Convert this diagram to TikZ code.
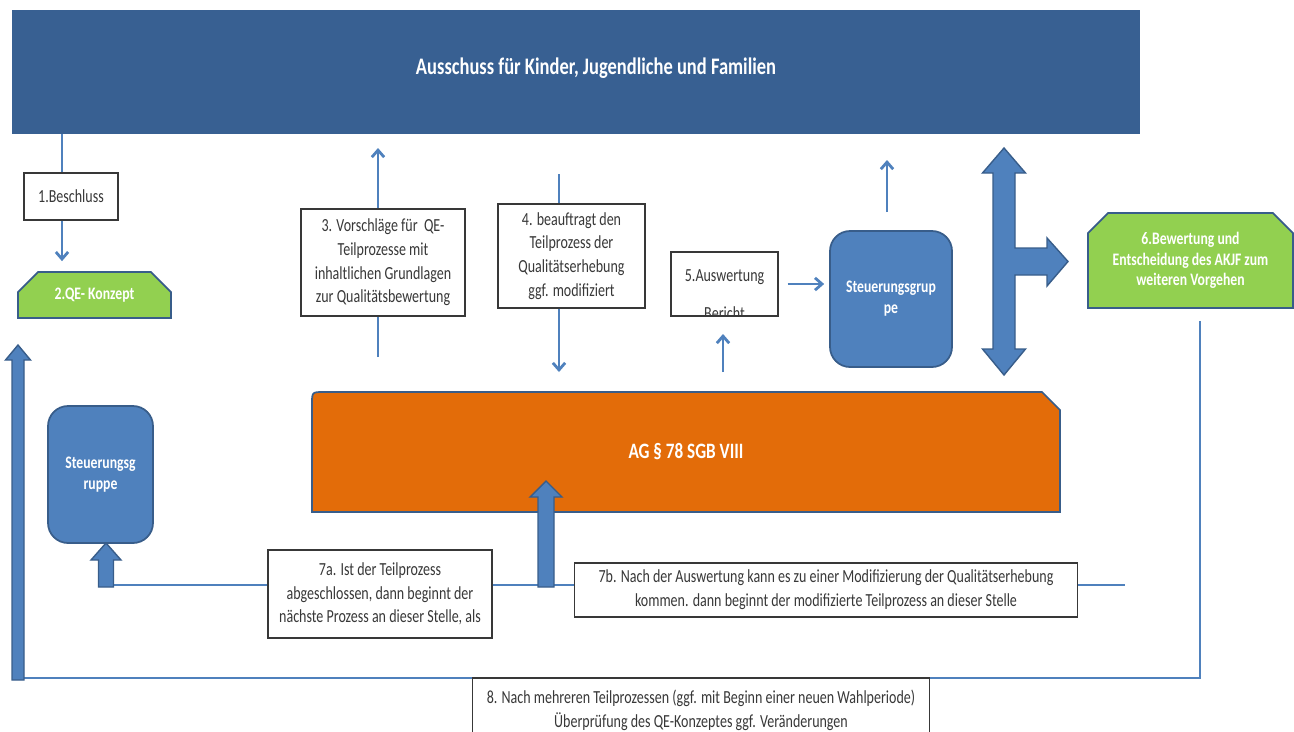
\documentclass[tikz,border=0pt]{standalone}
\usepackage{fontspec}
\setmainfont{Carlito}
\newfontfamily\boxfont[FakeStretch=0.76]{Carlito}
\newfontfamily\labfont[FakeStretch=0.78]{Carlito}
\usetikzlibrary{shapes.misc,arrows.meta}
\definecolor{akjfblue}{HTML}{386092}
\definecolor{boxblue}{HTML}{4F81BD}
\definecolor{rimblue}{HTML}{385D8A}
\definecolor{qegreen}{HTML}{92D050}
\definecolor{agorange}{HTML}{E36C09}
\definecolor{txtgrey}{HTML}{383838}
\tikzstyle{wbox}=[shape=rectangle,draw=txtgrey,fill=white,line width=0.6pt,text=txtgrey,align=center,inner sep=2pt,font=\boxfont\fontsize{10.5}{13.5}\selectfont]
\tikzstyle{gbox}=[shape=chamfered rectangle,chamfered rectangle corners={north west,north east},chamfered rectangle sep=0.2cm,draw=rimblue,fill=qegreen,line width=1pt,text=white,align=center,font=\labfont\bfseries\fontsize{10}{11.8}\selectfont]
\tikzstyle{sbox}=[shape=rectangle,rounded corners=0.4cm,draw=rimblue,fill=boxblue,line width=1pt,text=white,align=center,font=\labfont\bfseries\fontsize{10}{12}\selectfont]
\tikzstyle{banner}=[shape=rectangle,fill=akjfblue,text=white,font=\labfont\bfseries\fontsize{13.5}{16}\selectfont]
\tikzstyle{agshape}=[draw=rimblue,fill=agorange,line width=1pt]
\tikzstyle{agtext}=[shape=rectangle,text=white,font=\labfont\bfseries\fontsize{12.5}{14}\selectfont]
\tikzstyle{link}=[draw=boxblue,line width=1.6pt]
\tikzstyle{to}=[->,>={Straight Barb[length=4pt,width=7pt]},draw=boxblue,line width=1.6pt]
\tikzstyle{barrow}=[draw=rimblue,fill=boxblue,line width=0.8pt,line join=miter]

\begin{document}
\begin{tikzpicture}[x=0.02cm,y=-0.02cm]
    \useasboundingbox (0,0) rectangle (1294,731);
    \clip (0,0) rectangle (1294,731);

    % top committee
    \node[banner, minimum width=22.56cm, minimum height=2.48cm] (akjf) at (576,72)
        {\raisebox{0.24cm}{\hspace*{0.8cm}Ausschuss für Kinder, Jugendliche und Familien}};

    % left column
    \coordinate (b1) at (62,0);
    \node[wbox, minimum width=1.88cm, minimum height=0.94cm] (beschl) at (71,196.5) {1.Beschluss};
    \node[gbox, minimum width=3.06cm, minimum height=0.92cm] (qe) at (94.5,295) {2.QE- Konzept};
    \draw[link] (akjf.south -| b1) -- (beschl.north -| b1);
    \draw[to, shorten >=0.2cm] (beschl.south -| b1) -- (qe.north -| b1);

    % steps 3 to 5
    \coordinate (v3top) at (378,148);
    \coordinate (v3bot) at (378,357);
    \coordinate (v4top) at (559,174);
    \coordinate (v4bot) at (559,372);
    \coordinate (v5top) at (723,334);
    \coordinate (v5bot) at (723,372);
    \coordinate (sgtop) at (887,160);
    \node[wbox, minimum width=3.28cm, minimum height=2.14cm] (vorschl) at (383,262.5)
        {3. Vorschläge für~ QE-\\Teilprozesse mit\\inhaltlichen Grundlagen\\zur Qualitätsbewertung};
    \node[wbox, minimum width=2.94cm, minimum height=2.08cm] (auftrag) at (571.5,256)
        {4. beauftragt den\\Teilprozess der\\Qualitätserhebung\\ggf. modifiziert};
    \node[wbox, minimum width=2.14cm, minimum height=1.28cm,
        path picture={\node[text=txtgrey, align=center, font=\boxfont\fontsize{10.5}{13.5}\selectfont] (auswtxt)
            at ([yshift=-0.21cm]path picture bounding box.center) {5.Auswertung\\[0.29cm]Bericht};}]
        (ausw) at (724.5,284) {};
    \node[sbox, minimum width=2.44cm, minimum height=2.72cm] (sgr) at (891,299) {Steuerungsgrup\\pe};
    \draw[to] (vorschl.north -| v3top) -- (v3top);
    \draw[link] (v3bot) -- (vorschl.south -| v3bot);
    \draw[link] (v4top) -- (auftrag.north -| v4top);
    \draw[to] (auftrag.south -| v4bot) -- (v4bot);
    \draw[to] (v5bot) -- (v5top);
    \draw[to, shorten <=0.18cm, shorten >=0.1cm] (ausw.east) -- (sgr.west |- ausw.east);
    \draw[to, shorten <=0.36cm] (sgr.north -| sgtop) -- (sgtop);

    % three way arrow
    \filldraw[barrow] (1004,148) -- (1025.5,173) -- (1015,173) -- (1015,248) -- (1047,248)
        -- (1047,238) -- (1068,261.5) -- (1047,286) -- (1047,275) -- (1015,275) -- (1015,349)
        -- (1025.5,349) -- (1004,375) -- (982.5,349) -- (993,349) -- (993,173) -- (982.5,173) -- cycle;

    \node[gbox, minimum width=4.1cm, minimum height=1.9cm] (bewert) at (1190.5,260.5)
        {6.Bewertung und\\Entscheidung des AKJF zum\\weiteren Vorgehen};

    % loop back to the concept
    \coordinate (loopR) at (1200,678);
    \coordinate (loopL) at (18,678);
    \draw[link, shorten <=0.24cm] (bewert.south -| loopR) -- (loopR) -- (loopL);
    \filldraw[barrow] (12,680) -- (12,360) -- (5.5,360) -- (18,345) -- (30.5,360) -- (24,360) -- (24,680) -- cycle;
    \node[wbox, minimum width=9.16cm, minimum height=1.28cm] (pruef) at (701,710)
        {8. Nach mehreren Teilprozessen (ggf. mit Beginn einer neuen Wahlperiode)\\Überprüfung des QE-Konzeptes ggf. Veränderungen};

    % working group
    \filldraw[agshape] (312,512) -- (312,404) .. controls (312,392) .. (324,392) -- (1042,392)
        -- (1060,410) -- (1060,512) -- cycle;
    \node[agtext, minimum width=14.96cm, minimum height=2.42cm] (ag) at (686,452) {AG § 78 SGB VIII};

    % lower steering group and step 7
    \node[sbox, minimum width=2.1cm, minimum height=2.74cm] (sgl) at (100.5,474.5) {Steuerungsg\\ruppe};
    \coordinate (lineL) at (113,585);
    \coordinate (lineR) at (1125,585);
    \node[wbox, minimum width=4.48cm, minimum height=1.76cm] (siebena) at (380,594)
        {7a. Ist der Teilprozess\\abgeschlossen, dann beginnt der\\nächste Prozess an dieser Stelle, als};
    \node[wbox, minimum width=10.08cm, minimum height=1.08cm] (siebenb) at (826,590)
        {7b. Nach der Auswertung kann es zu einer Modifizierung der Qualitätserhebung\\kommen. dann beginnt der modifizierte Teilprozess an dieser Stelle};
    \draw[link] (lineL) -- (lineL -| siebena.west);
    \draw[link] (siebena.east |- lineL) -- (siebenb.west |- lineL);
    \draw[link] (siebenb.east |- lineL) -- (lineR);
    \filldraw[barrow] (98.5,587) -- (98.5,560) -- (91,560) -- (106,543) -- (121,560) -- (113.5,560) -- (113.5,587) -- cycle;
    \filldraw[barrow] (538,587) -- (538,497) -- (530,497) -- (546,481) -- (562,497) -- (554,497) -- (554,587) -- cycle;
\end{tikzpicture}
\end{document}
